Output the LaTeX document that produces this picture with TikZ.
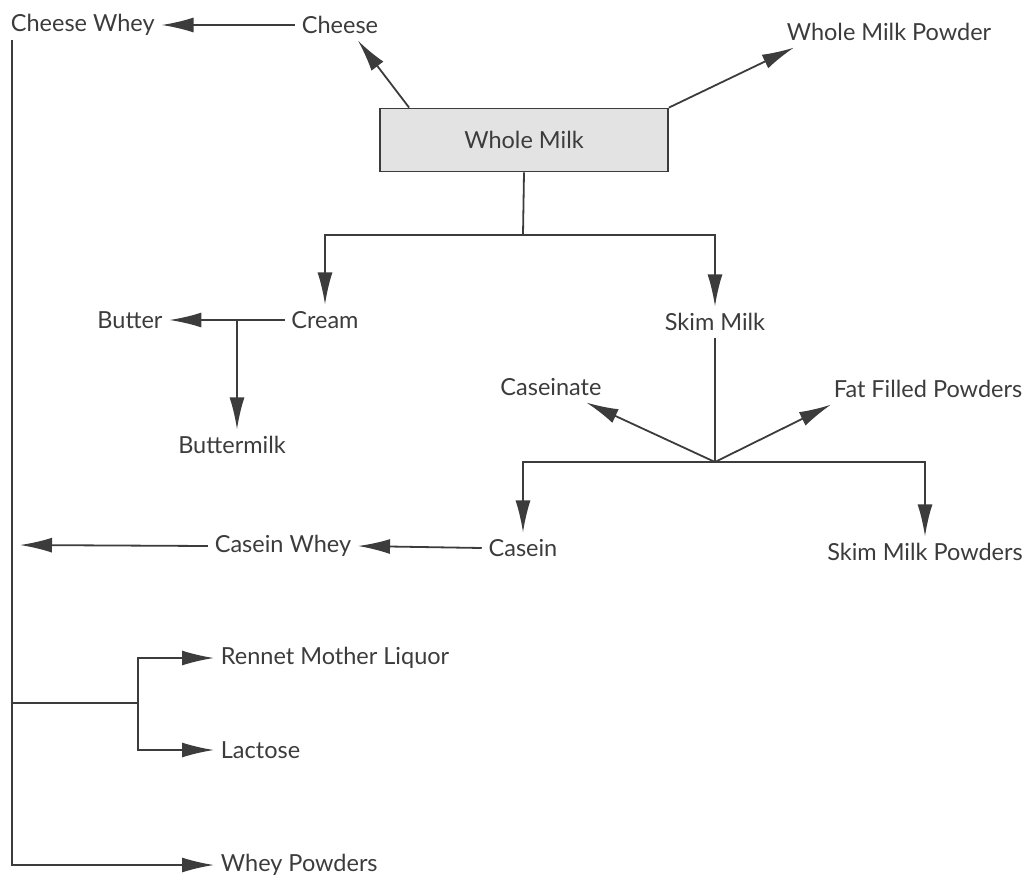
\documentclass[tikz,border=0pt]{standalone}
\usepackage{fontspec}
\setmainfont{Lato}
\usepackage{tikz}
\usetikzlibrary{arrows.meta,positioning,calc}
\definecolor{ink}{HTML}{3C3C3C}

\begin{document}
\begin{tikzpicture}[x=1pt,y=-1pt,line width=1.8pt,draw=ink,
  lbl/.style={text=ink,inner sep=6pt,font=\fontsize{23.5}{27}\selectfont},
  arr/.style={-{Latex[length=32pt,width=15pt]}}]
\useasboundingbox (0,0) rectangle (1034,884);
\node[lbl,anchor=west] (cw) at (4,25) {Cheese Whey};
\node[lbl] (cheese) at (340,25) {Cheese};
\node[lbl] (wmp) at (889,32) {Whole Milk Powder};
\node[lbl,draw=ink,fill=gray!22,minimum width=288pt,minimum height=63pt] (wm) at (524,140) {Whole Milk};
\node[lbl] (cream) at (325,320) {Cream};
\node[lbl] (butter) at (130,320) {Butter};
\node[lbl] (bmilk) at (232,445) {Buttermilk};
\node[lbl] (skim) at (715,322) {Skim Milk};
\node[lbl] (cnate) at (551,387) {Caseinate};
\node[lbl] (ffp) at (928,389) {Fat Filled Powders};
\node[lbl] (casein) at (523,548) {Casein};
\node[lbl] (smp) at (925,552) {Skim Milk Powders};
\node[lbl] (cwhey) at (283,546) {Casein Whey};
\node[lbl,anchor=west] (rml) at (214,658) {Rennet Mother Liquor};
\node[lbl,anchor=west] (lact) at (214,750) {Lactose};
\node[lbl,anchor=west] (wp) at (214,865) {Whey Powders};
\coordinate (j1) at (523,235);
\coordinate (j2) at (237,320);
\coordinate (j3) at (715,462);
\coordinate (cw1) at (20,545);
\coordinate (b1) at (12,703);
\coordinate (b2) at (138,703);
\draw[arr] (cheese.west) -- (cw.east);
\draw[arr] ([xshift=30]wm.north west) -- ([xshift=18]cheese.south);
\draw[arr] (wm.north east) -- ([xshift=14]wmp.south west);
\draw (wm.south) -- (j1);
\draw[arr] (j1) -| (cream.north);
\draw[arr] (j1) -| (skim.north);
\draw[arr] (cream.west) -- (butter.east);
\draw[arr] (j2) -- (j2 |- bmilk.north);
\draw (skim.south) -- (j3);
\draw[arr] (j3) -- ([xshift=-22]cnate.south east);
\draw[arr] (j3) -- ([xshift=4]ffp.south west);
\draw[arr] (j3) -| (casein.north);
\draw[arr] (j3) -| (smp.north);
\draw[arr] (casein.west) -- (cwhey.east);
\draw[arr] (cwhey.west) -- (cw1);
\draw[arr] (12,40) |- (wp.west);
\draw (b1) -- (b2);
\draw[arr] (b2) |- (rml.west);
\draw[arr] (b2) |- (lact.west);
\end{tikzpicture}
\end{document}
